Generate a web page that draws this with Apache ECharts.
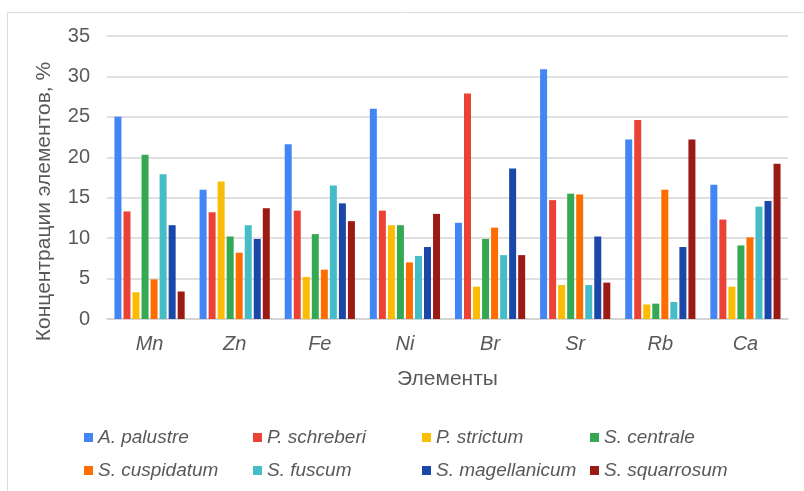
<!DOCTYPE html>
<html>
<head>
<meta charset="utf-8">
<script src="https://cdn.jsdelivr.net/npm/echarts@6/dist/echarts.min.js"></script>
<style>
  html, body { margin: 0; padding: 0; background: #fff; }
  #chart { width: 804px; height: 491px; }
</style>
</head>
<body>
<div id="chart"></div>
<script>
// Elements on the x axis
const elements = ['Mn', 'Zn', 'Fe', 'Ni', 'Br', 'Sr', 'Rb', 'Ca'];

// Moss species (one series each)
const species = ['A. palustre', 'P. schreberi', 'P. strictum', 'S. centrale',
                 'S. cuspidatum', 'S. fuscum', 'S. magellanicum', 'S. squarrosum'];

// Concentrations, %, per species in element order
const aPalustre      = [25.0, 16.0, 21.6, 26.0, 11.9, 30.9, 22.2, 16.6];
const pSchreberi     = [13.3, 13.2, 13.4, 13.4, 27.9, 14.7, 24.6, 12.3];
const pStrictum      = [3.3, 17.0, 5.2, 11.6, 4.0, 4.2, 1.8, 4.0];
const sCentrale      = [20.3, 10.2, 10.5, 11.6, 9.9, 15.5, 1.9, 9.1];
const sCuspidatum    = [4.9, 8.2, 6.1, 7.0, 11.3, 15.4, 16.0, 10.1];
const sFuscum        = [17.9, 11.6, 16.5, 7.8, 7.9, 4.2, 2.1, 13.9];
const sMagellanicum  = [11.6, 9.9, 14.3, 8.9, 18.6, 10.2, 8.9, 14.6];
const sSquarrosum    = [3.4, 13.7, 12.1, 13.0, 7.9, 4.5, 22.2, 19.2];

const seriesValues = [aPalustre, pSchreberi, pStrictum, sCentrale,
                      sCuspidatum, sFuscum, sMagellanicum, sSquarrosum];

const yTicks = [0, 5, 10, 15, 20, 25, 30, 35];

const palette = ['#4285F4', '#EA4335', '#FBBC04', '#34A853',
                 '#FF6D01', '#46BDC6', '#1A47A8', '#9B1B14'];

const textGray = '#595959';
const fontFamily = '"Liberation Sans", Arial, sans-serif';

const chart = echarts.init(document.getElementById('chart'), null, { renderer: 'canvas' });

// Legend laid out as a 4 x 2 table: one legend block per species
const legendCols = [79, 248, 417, 585];
const legendRows = [423, 456];
const legends = species.map((name, i) => ({
  orient: 'horizontal',
  left: legendCols[i % 4],
  top: legendRows[Math.floor(i / 4)],
  itemWidth: 9,
  itemHeight: 9,
  icon: 'rect',
  data: [name],
  textStyle: {
    color: textGray,
    fontSize: 19,
    fontStyle: 'italic',
    fontFamily: fontFamily
  }
}));

chart.setOption({
  animation: false,
  color: palette,
  textStyle: { fontFamily: fontFamily },
  graphic: [{
    type: 'rect',
    shape: { x: 7.5, y: 12.5, width: 900, height: 600 },
    style: { fill: 'none', stroke: '#dcdcdc', lineWidth: 1 },
    silent: true
  }],
  grid: { left: 107, right: 16, top: 36, bottom: 172, containLabel: false },
  legend: legends,
  xAxis: {
    type: 'category',
    data: elements,
    name: 'Элементы',
    nameLocation: 'middle',
    nameGap: 50,
    nameTextStyle: { color: textGray, fontSize: 21, fontFamily: fontFamily },
    axisTick: { show: false },
    axisLine: { lineStyle: { color: '#d0d0d0', width: 1.5 } },
    axisLabel: {
      color: textGray,
      fontSize: 20,
      fontStyle: 'italic',
      margin: 15,
      fontFamily: fontFamily
    }
  },
  yAxis: {
    type: 'value',
    min: yTicks[0],
    max: yTicks[yTicks.length - 1],
    interval: 5,
    name: 'Концентрации элементов, %',
    nameLocation: 'middle',
    nameGap: 52,
    nameTextStyle: {
      color: textGray,
      fontSize: 21,
      fontFamily: fontFamily,
      padding: [0, 48, 0, 0]
    },
    axisLine: { show: false },
    axisTick: { show: false },
    axisLabel: { color: textGray, fontSize: 20, margin: 17, fontFamily: fontFamily },
    splitLine: { lineStyle: { color: '#d6d6d6', width: 1.5 } }
  },
  series: species.map((name, i) => ({
    name: name,
    type: 'bar',
    data: seriesValues[i],
    barWidth: 7,
    barGap: '29%',
    itemStyle: { color: palette[i] }
  }))
});
</script>
</body>
</html>
